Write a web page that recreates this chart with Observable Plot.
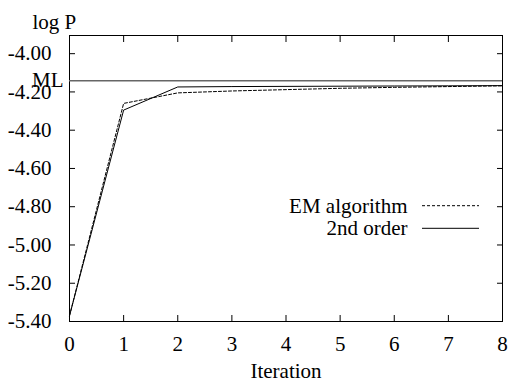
<!DOCTYPE html>
<html>
<head>
<meta charset="utf-8">
<script src="https://cdn.jsdelivr.net/npm/d3@7"></script>
<script src="https://cdn.jsdelivr.net/npm/@observablehq/plot@0.6"></script>
<style>
  html, body { margin: 0; padding: 0; background: white; }
</style>
</head>
<body>
<div id="chart"></div>
<script>
const iterations = [0, 1, 2, 3, 4, 5, 6, 7, 8];
const emValues = [-5.37, -4.26, -4.205, -4.195, -4.188, -4.181, -4.176, -4.172, -4.168];
const secondOrderValues = [-5.37, -4.295, -4.174, -4.172, -4.171, -4.170, -4.169, -4.168, -4.167];
const mlValue = -4.141;
const yTicks = [-5.4, -5.2, -5.0, -4.8, -4.6, -4.4, -4.2, -4.0];
const xTicks = [0, 1, 2, 3, 4, 5, 6, 7, 8];
const seriesNames = ["EM algorithm", "2nd order"];

const em = iterations.map((x, i) => ({x, y: emValues[i]}));
const so = iterations.map((x, i) => ({x, y: secondOrderValues[i]}));

const font = "Liberation Serif";
const fs = 21;

function legendLines(index, scales, values, dims) {
  const g = d3.create("svg:g");
  const xr = dims.width - dims.marginRight;
  const yt = dims.marginTop;
  const rows = [
    {dy: 170.7, dash: "3,2"},
    {dy: 193.3, dash: null}
  ];
  rows.forEach(r => {
    const l = g.append("line")
      .attr("x1", xr - 80).attr("x2", xr - 23)
      .attr("y1", yt + r.dy).attr("y2", yt + r.dy)
      .attr("stroke", "black").attr("stroke-width", 1);
    if (r.dash) l.attr("stroke-dasharray", r.dash);
  });
  return g.node();
}

const chart = Plot.plot({
  width: 508,
  height: 385,
  marginLeft: 69,
  marginRight: 6,
  marginTop: 35,
  marginBottom: 64,
  style: {fontSize: fs + "px", background: "white", color: "black"},
  x: {domain: [0, 8]},
  y: {domain: [-5.4, -3.905]},
  marks: [
    Plot.frame({stroke: "black", strokeWidth: 1}),
    Plot.axisY(yTicks, {anchor: "left", tickSize: -6, tickPadding: 24, tickFormat: d => d.toFixed(2), label: null, fontSize: fs}),
    Plot.axisY(yTicks, {anchor: "right", tickSize: -6, tickFormat: () => "", label: null}),
    Plot.axisX(xTicks, {anchor: "bottom", tickSize: -6, tickPadding: 21, tickFormat: d => String(d), label: null, fontSize: fs}),
    Plot.axisX(xTicks, {anchor: "top", tickSize: -6, tickFormat: () => "", label: null}),
    Plot.ruleY([mlValue], {stroke: "#666", strokeWidth: 1.5}),
    Plot.text([mlValue], {y: d => d, frameAnchor: "left", textAnchor: "end", dx: -6, text: () => "ML", fontSize: fs, lineAnchor: "middle"}),
    Plot.line(em, {x: "x", y: "y", stroke: "black", strokeWidth: 1, strokeDasharray: "3,2"}),
    Plot.line(so, {x: "x", y: "y", stroke: "black", strokeWidth: 1}),
    Plot.text(["log P"], {frameAnchor: "top-left", textAnchor: "start", dx: -37, dy: -13, lineAnchor: "middle", fontSize: fs}),
    Plot.text(["Iteration"], {frameAnchor: "bottom", textAnchor: "middle", dy: 50, lineAnchor: "middle", fontSize: fs}),
    Plot.text([seriesNames[0]], {frameAnchor: "top-right", textAnchor: "end", dx: -95, dy: 171, lineAnchor: "middle", fontSize: fs}),
    Plot.text([seriesNames[1]], {frameAnchor: "top-right", textAnchor: "end", dx: -95, dy: 193, lineAnchor: "middle", fontSize: fs}),
    legendLines
  ]
});
chart.style.fontFamily = font;
chart.querySelectorAll("text, g").forEach(n => n.setAttribute("font-family", font));
document.getElementById("chart").appendChild(chart);
</script>
</body>
</html>
